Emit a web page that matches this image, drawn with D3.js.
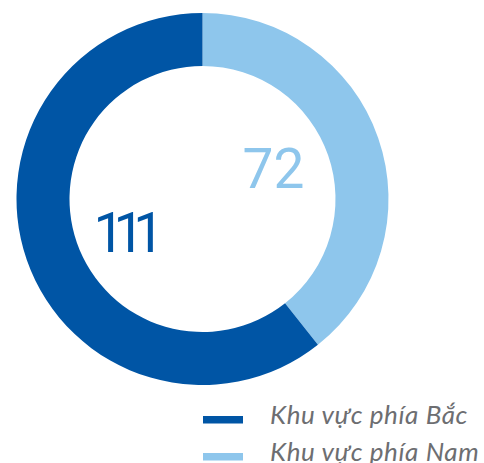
<!DOCTYPE html>
<html>
<head>
<meta charset="utf-8">
<script src="https://cdn.jsdelivr.net/npm/d3@7"></script>
<style>
  body { margin: 0; background: #fff; }
  svg { display: block; }
</style>
</head>
<body>
<svg width="484" height="463"></svg>
<script>
var regions = ["Khu vực phía Nam", "Khu vực phía Bắc"];
var counts = [72, 111];
var colors = ["#8ec6ec", "#0055a5"];

var svg = d3.select("svg");
var cx = 202.5, cy = 199,
    outerR = 186, innerR = 133;

var color = d3.scaleOrdinal().domain(regions).range(colors);

var data = regions.map(function(r, i){ return {name: r, value: counts[i]}; });

var pie = d3.pie()
      .sort(null)
      .value(function(d){ return d.value; });

var arc = d3.arc()
      .innerRadius(innerR)
      .outerRadius(outerR);

var g = svg.append("g")
      .attr("transform", "translate(" + cx + "," + cy + ")");

g.selectAll("path")
  .data(pie(data))
  .enter().append("path")
    .attr("d", arc)
    .attr("fill", function(d){ return color(d.data.name); });

// value labels inside the ring (offsets from centre, spacing for the narrow 1s)
var labelPos = {"Khu vực phía Nam": [40, -11, 0], "Khu vực phía Bắc": [-109, 53, -11]};
g.selectAll("text.val")
  .data(data)
  .enter().append("text")
    .attr("class", "val")
    .attr("x", function(d){ return labelPos[d.name][0]; })
    .attr("y", function(d){ return labelPos[d.name][1]; })
    .attr("fill", function(d){ return color(d.name); })
    .style("font-family", "Roboto, 'Open Sans', sans-serif")
    .style("font-size", "55px")
    .style("letter-spacing", function(d){ return labelPos[d.name][2] + "px"; })
    .text(function(d){ return d.value; });

// legend, Bắc first
var legendOrder = ["Khu vực phía Bắc", "Khu vực phía Nam"];
var ly = d3.scalePoint().domain(legendOrder).range([420, 457]);

var legend = svg.append("g").selectAll("g")
      .data(legendOrder)
      .enter().append("g")
      .attr("transform", function(d){ return "translate(0," + ly(d) + ")"; });

legend.append("rect")
    .attr("x", 203).attr("y", -4)
    .attr("width", 40).attr("height", 7.5)
    .attr("fill", function(d){ return color(d); });

legend.append("text")
    .attr("x", 270).attr("y", 4)
    .attr("fill", "#6d6e71")
    .style("font-family", "Lato, 'Open Sans', sans-serif")
    .style("font-style", "italic")
    .style("font-size", "26px")
    .style("letter-spacing", "0.6px")
    .text(function(d){ return d; });
</script>
</body>
</html>
